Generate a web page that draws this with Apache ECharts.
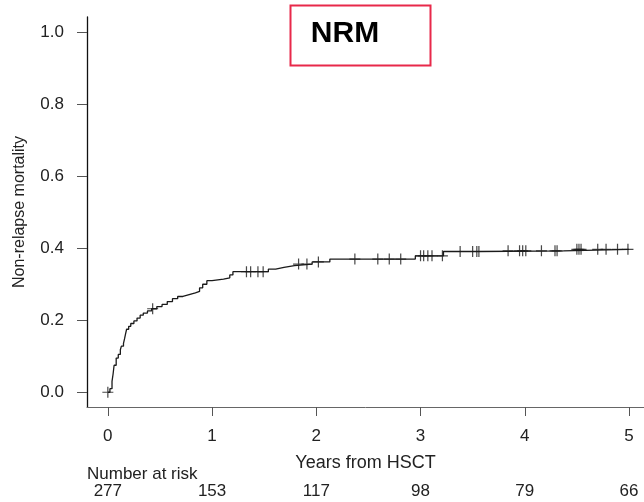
<!DOCTYPE html>
<html>
<head>
<meta charset="utf-8">
<script src="https://cdn.jsdelivr.net/npm/echarts@6/dist/echarts.min.js"></script>
<style>
html,body{margin:0;padding:0;background:#fff;}
#chart{width:644px;height:502px;}
</style>
</head>
<body>
<div id="chart"></div>
<script>
// ---- data ----
const xTicks = [0, 1, 2, 3, 4, 5];
const riskCounts = [277, 153, 117, 98, 79, 66];
const yTicks = [0, 0.2, 0.4, 0.6, 0.8, 1.0];

const eventTimes  = [0, 0.02, 0.04, 0.05, 0.06, 0.08, 0.10, 0.12, 0.13, 0.15, 0.16, 0.17, 0.18, 0.20, 0.22, 0.25, 0.28, 0.31, 0.34, 0.38, 0.42, 0.47, 0.52, 0.57, 0.62, 0.67, 0.72, 0.78, 0.84, 0.88, 0.91, 0.95, 1.00, 1.11, 1.17, 1.20, 1.54, 1.61, 1.69, 1.79, 1.96, 2.13, 2.95, 3.22, 3.57, 4.37];
const eventValues = [0, 0.010, 0.030, 0.050, 0.075, 0.095, 0.105, 0.118, 0.128, 0.136, 0.148, 0.162, 0.175, 0.183, 0.191, 0.198, 0.206, 0.214, 0.220, 0.226, 0.232, 0.238, 0.244, 0.252, 0.260, 0.266, 0.271, 0.276, 0.280, 0.290, 0.300, 0.310, 0.314, 0.318, 0.326, 0.335, 0.342, 0.347, 0.352, 0.356, 0.362, 0.370, 0.379, 0.391, 0.393, 0.397];
const endTime = 5.0;

const censorTimes = [0.0, 0.43, 1.33, 1.37, 1.44, 1.49, 1.83, 1.91, 2.02, 2.37, 2.59, 2.70, 2.81, 3.00, 3.03, 3.07, 3.11, 3.21, 3.38, 3.50, 3.54, 3.56, 3.84, 3.95, 3.98, 4.01, 4.16, 4.29, 4.31, 4.50, 4.52, 4.54, 4.70, 4.78, 4.89, 4.99];

// ---- build series data ----
const curveData = eventTimes.map((t, i) => [t, eventValues[i]]);
curveData.push([endTime, eventValues[eventValues.length - 1]]);

function valueAt(t) {
  let v = 0;
  for (let i = 0; i < eventTimes.length; i++) {
    if (eventTimes[i] <= t) v = eventValues[i]; else break;
  }
  return v;
}
const censorData = censorTimes.map(t => [t, valueAt(t)]);

const plusPath = 'path://M4.45,0H5.55V4.45H10V5.55H5.55V10H4.45V5.55H0V4.45H4.45Z';
const FONT = '"Liberation Sans", Arial, sans-serif';

const chart = echarts.init(document.getElementById('chart'), null, {renderer: 'canvas'});
chart.setOption({
  animation: false,
  backgroundColor: '#fff',
  grid: {left: 87, right: 0, top: 17, bottom: 95},
  xAxis: [{
    type: 'value', min: -0.2, max: 5.144,
    axisLine: {show: true, onZero: false, lineStyle: {color: '#666', width: 1}},
    axisTick: {show: true, length: 9, customValues: xTicks, lineStyle: {color: '#555', width: 1}},
    axisLabel: {show: true, customValues: xTicks, margin: 21, color: '#222', fontSize: 17, fontFamily: FONT},
    splitLine: {show: false},
    name: 'Years from HSCT', nameLocation: 'middle', nameGap: 47,
    nameTextStyle: {color: '#222', fontSize: 18, fontFamily: FONT}
  }, {
    type: 'value', min: -0.2, max: 5.144, position: 'bottom', offset: 76,
    axisLine: {show: false, onZero: false}, axisTick: {show: false}, splitLine: {show: false},
    axisLabel: {show: true, customValues: xTicks, margin: 0, color: '#222', fontSize: 17, fontFamily: FONT,
      formatter: v => { const i = xTicks.indexOf(Math.round(v)); return i >= 0 ? String(riskCounts[i]) : ''; }}
  }],
  yAxis: {
    type: 'value', min: -0.041, max: 1.0425,
    axisLine: {show: true, onZero: false, lineStyle: {color: '#111', width: 1.3}},
    axisTick: {show: true, length: 10, customValues: yTicks, lineStyle: {color: '#555', width: 1}},
    axisLabel: {show: true, customValues: yTicks, margin: 23, color: '#222', fontSize: 17, fontFamily: FONT,
      formatter: v => v.toFixed(1)},
    splitLine: {show: false},
    name: 'Non-relapse mortality', nameLocation: 'middle', nameGap: 59, nameRotate: 90,
    nameTextStyle: {color: '#222', fontSize: 16, fontFamily: FONT}
  },
  series: [{
    type: 'line', step: 'end', data: curveData, showSymbol: false, symbol: 'none',
    lineStyle: {color: '#1a1a1a', width: 1.3}, silent: true
  }, {
    type: 'scatter', data: censorData, symbol: plusPath, symbolSize: 11,
    itemStyle: {color: '#1a1a1a'}, silent: true
  }],
  graphic: [{
    type: 'rect', shape: {x: 290.5, y: 5.5, width: 140, height: 60},
    style: {fill: 'none', stroke: '#e8294a', lineWidth: 2}
  }, {
    type: 'text', x: 345, y: 34,
    style: {text: 'NRM', fill: '#000', font: 'bold 30px ' + FONT, textAlign: 'center', textVerticalAlign: 'middle'}
  }, {
    type: 'text', x: 87, y: 474,
    style: {text: 'Number at risk', fill: '#222', font: '17px ' + FONT, textAlign: 'left', textVerticalAlign: 'middle'}
  }]
});
</script>
</body>
</html>
